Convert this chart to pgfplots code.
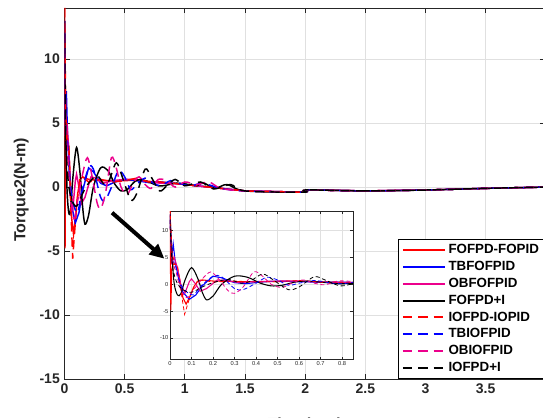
\documentclass[border=0pt]{standalone}
\usepackage{pgfplots}
\usepackage{pgfplotstable}
\pgfplotsset{compat=1.18}
\usepackage{fontspec}
\setmainfont{Liberation Sans}
\usetikzlibrary{arrows.meta}
\definecolor{axgray}{gray}{0.15}
\definecolor{gridgray}{gray}{0.88}

\pgfplotstableread{
t y
0 14
0.004 -4.8
0.008 2.5
0.015 3.8
0.03 3.6
0.045 1.0
0.06 -2.5
0.075 -3.7
0.09 -2.5
0.11 -0.5
0.13 0.6
0.15 0.8
0.2 0.6
0.3 0.5
0.4 0.5
0.5 0.5
0.6 0.55
0.7 0.45
0.8 0.35
0.9 0.3
1.0 0.2
1.2 0.0
1.5 -0.3
1.99 -0.4
2.01 -0.22
2.5 -0.3
3 -0.23
3.5 -0.1
4 0
}\dA
\pgfplotstableread{
t y
0 13
0.008 5
0.015 7.5
0.025 4
0.04 1.0
0.06 -1.5
0.09 -2.8
0.12 -2.0
0.15 -0.3
0.2 1.5
0.24 1.2
0.3 0.3
0.35 0.1
0.42 0.4
0.5 0.6
0.6 0.5
0.7 0.35
0.8 0.4
0.9 0.3
1.0 0.2
1.2 0.0
1.5 -0.3
1.99 -0.4
2.01 -0.22
2.5 -0.3
3 -0.23
3.5 -0.1
4 0
}\dB
\pgfplotstableread{
t y
0 13
0.008 4
0.02 5
0.035 3
0.05 0
0.07 -1.6
0.09 0.5
0.1 1.0
0.12 0
0.14 -1.3
0.17 -0.8
0.22 0.8
0.26 0.7
0.32 0.3
0.4 0.5
0.5 0.6
0.6 0.6
0.7 0.4
0.8 0.3
0.9 0.3
1.0 0.2
1.2 0
1.5 -0.3
1.99 -0.4
2.01 -0.22
2.5 -0.3
3 -0.23
3.5 -0.1
4 0
}\dC
\pgfplotstableread{
t y
0 13
0.01 5
0.02 0
0.035 -2
0.05 -1.8
0.07 0.8
0.1 3.1
0.13 1.0
0.15 -1.5
0.17 -2.9
0.2 -2.2
0.24 0
0.3 1.5
0.36 1.3
0.42 0.2
0.47 -0.3
0.52 -0.2
0.58 0.4
0.63 0.6
0.7 0.4
0.78 0.1
0.85 0.15
0.92 0.3
1.0 0.25
1.1 0.1
1.15 0.35
1.25 -0.1
1.35 0.2
1.5 -0.3
1.99 -0.4
2.01 -0.22
2.5 -0.3
3 -0.23
3.5 -0.1
4 0
}\dD
\pgfplotstableread{
t y
0 14
0.01 6
0.02 3.8
0.035 3.5
0.05 -1
0.068 -5.6
0.08 -4
0.1 -1.5
0.13 0.8
0.16 0.7
0.2 0.4
0.3 0.6
0.4 0.4
0.5 0.5
0.6 0.7
0.7 0.4
0.8 0.4
0.9 0.3
1.0 0.2
1.2 0
1.5 -0.3
1.99 -0.4
2.01 -0.22
2.5 -0.3
3 -0.23
3.5 -0.1
4 0
}\dE
\pgfplotstableread{
t y
0 12
0.01 5
0.025 3.5
0.05 0
0.08 -1.5
0.11 -2.0
0.14 -0.5
0.2 1.5
0.24 1.4
0.3 -0.8
0.34 -1.0
0.4 0.2
0.45 1.3
0.5 0.8
0.55 -0.2
0.6 0.2
0.67 0.7
0.74 0.3
0.8 0.1
0.88 0.5
0.95 0.3
1.05 0.1
1.15 0.3
1.3 -0.1
1.5 -0.3
1.99 -0.4
2.01 -0.22
2.5 -0.3
3 -0.23
3.5 -0.1
4 0
}\dF
\pgfplotstableread{
t y
0 12
0.01 5
0.03 2
0.05 -1
0.08 -2.5
0.11 -1
0.15 1.0
0.19 2.3
0.23 0.8
0.27 -1.2
0.3 -1.7
0.34 -0.5
0.39 2.3
0.43 1.5
0.47 0
0.52 -0.6
0.57 0.3
0.62 0.8
0.67 0.2
0.72 -0.1
0.78 0.6
0.85 0.5
0.92 0.0
1.0 0.4
1.1 0.2
1.2 0.4
1.3 -0.1
1.5 -0.3
1.99 -0.4
2.01 -0.22
2.5 -0.3
3 -0.23
3.5 -0.1
4 0
}\dG
\pgfplotstableread{
t y
0 12
0.01 4
0.03 0.5
0.06 -1.0
0.1 -1.5
0.15 -0.5
0.2 0.3
0.27 0.9
0.33 0.2
0.37 0.5
0.43 1.9
0.48 0.8
0.55 -1.0
0.6 -0.5
0.67 1.4
0.72 0.8
0.79 -0.3
0.85 0.1
0.92 0.6
1.0 0.1
1.13 0.4
1.24 -0.15
1.38 0.2
1.5 -0.3
1.99 -0.4
2.01 -0.22
2.5 -0.3
3 -0.23
3.5 -0.1
4 0
}\dH

\pgfplotsset{
  sA/.style={red, line width=1.1pt},
  sB/.style={blue, line width=1.1pt},
  sC/.style={magenta, line width=1.1pt},
  sD/.style={black, line width=1.1pt},
  sE/.style={red, line width=1.1pt, dash pattern=on 7pt off 4.5pt},
  sF/.style={blue, line width=1.1pt, dash pattern=on 7pt off 4.5pt},
  sG/.style={magenta, line width=1.1pt, dash pattern=on 7pt off 4.5pt},
  sH/.style={black, line width=1.1pt, dash pattern=on 7pt off 4.5pt},
}

\begin{document}
\begin{tikzpicture}
\begin{axis}[
  at={(0pt,0pt)}, anchor=south west,
  width=361pt, height=278.25pt, scale only axis,
  xmin=0, xmax=4, ymin=-15, ymax=14,
  xtick={0,0.5,...,3.5}, ytick={-15,-10,...,10},
  xticklabels={0,0.5,1,1.5,2,2.5,3,3.5},
  yticklabels={-15,-10,-5,0,5,10},
  tick align=inside, xtick pos=both, ytick pos=both,
  major tick length=4pt,
  axis line style={axgray, line width=0.6pt},
  tick style={axgray, line width=0.6pt},
  grid=major, major grid style={gridgray, line width=0.6pt},
  ticklabel style={font=\fontsize{10.5}{12}\selectfont\bfseries, text=axgray},
  xlabel={Time(sec)}, ylabel={Torque2(N-m)},
  label style={font=\fontsize{12}{14}\selectfont\bfseries, text=axgray},
  xlabel style={at={(axis description cs:0.5,0)}, anchor=north, yshift=-26pt},
  ylabel style={at={(axis description cs:-0.09,0.51)}, anchor=center, rotate=0},
  legend style={at={(1,0)}, anchor=south east, draw=black, fill=white,
    font=\fontsize{10}{12}\selectfont\bfseries, row sep=0.3pt,
    inner xsep=3pt, inner ysep=2pt, line width=0.6pt,
    nodes={inner sep=1.9pt}},
  legend cell align=left,
  legend image code/.code={\draw[#1, line width=1.5pt] (0pt,0pt) -- (31.5pt,0pt);},
  clip=true,
]
\addplot[sA] table[x=t,y=y]{\dA};
\addplot[sB] table[x=t,y=y]{\dB};
\addplot[sC] table[x=t,y=y]{\dC};
\addplot[sD, smooth, tension=0.5] table[x=t,y=y]{\dD};
\addplot[sE] table[x=t,y=y]{\dE};
\addplot[sF, smooth, tension=0.5] table[x=t,y=y]{\dF};
\addplot[sG, smooth, tension=0.5] table[x=t,y=y]{\dG};
\addplot[sH, smooth, tension=0.5] table[x=t,y=y]{\dH};
\legend{FOFPD-FOPID,TBFOFPID,OBFOFPID,FOFPD+I,IOFPD-IOPID,TBIOFPID,OBIOFPID,IOFPD+I}
\draw[-{Triangle[length=11pt,width=10pt]}, line width=3pt, black] (axis cs:0.395,-2.0) -- (axis cs:0.83,-5.6);
\end{axis}
\begin{axis}[
  at={(79.1pt,14.6pt)}, anchor=south west,
  width=137.25pt, height=110.85pt, scale only axis,
  xmin=0, xmax=0.85, ymin=-14, ymax=13.5,
  xtick={0,0.1,...,0.8}, ytick={-10,-5,0,5,10},
  xticklabels={0,0.1,0.2,0.3,0.4,0.5,0.6,0.7,0.8},
  yticklabels={-10,-5,0,5,10},
  tick align=inside, xtick pos=both, ytick pos=both,
  major tick length=2pt,
  axis line style={axgray, line width=0.4pt},
  tick style={axgray, line width=0.4pt},
  grid=major, major grid style={gridgray, line width=0.5pt},
  axis background/.style={fill=white},
  ticklabel style={font=\fontsize{4.3}{5}\selectfont, text=axgray, inner sep=1pt},
]
\addplot[sA, line width=0.8pt] table[x=t,y=y]{\dA};
\addplot[sB, line width=0.8pt] table[x=t,y=y]{\dB};
\addplot[sC, line width=0.8pt] table[x=t,y=y]{\dC};
\addplot[sD, line width=0.8pt, smooth, tension=0.5] table[x=t,y=y]{\dD};
\addplot[sE, line width=0.6pt, dash pattern=on 3pt off 2pt] table[x=t,y=y]{\dE};
\addplot[sF, line width=0.6pt, dash pattern=on 3pt off 2pt, smooth, tension=0.5] table[x=t,y=y]{\dF};
\addplot[sG, line width=0.6pt, dash pattern=on 3pt off 2pt, smooth, tension=0.5] table[x=t,y=y]{\dG};
\addplot[sH, line width=0.6pt, dash pattern=on 3pt off 2pt, smooth, tension=0.5] table[x=t,y=y]{\dH};
\end{axis}
\pgfresetboundingbox
\path[use as bounding box] (-48.4pt,-29.25pt) rectangle (358.9pt,284.25pt);
\end{tikzpicture}
\end{document}
